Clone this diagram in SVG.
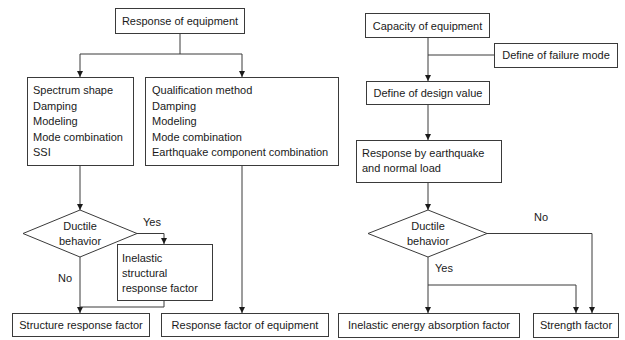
<svg xmlns="http://www.w3.org/2000/svg" width="625" height="340" viewBox="0 0 625 340">
<style>
.bx{fill:#fff;stroke:#3a3a3a;stroke-width:1}
.ln{fill:none;stroke:#3a3a3a;stroke-width:1}
text{font-family:"Liberation Sans",Arial,sans-serif;font-size:11px;fill:#1a1a1a}
.c{text-anchor:middle}
</style>
<defs>
<marker id="ah" markerUnits="userSpaceOnUse" markerWidth="7" markerHeight="7" refX="6" refY="3" orient="auto">
<path d="M0,0 L6,3 L0,6 z" fill="#1a1a1a"/>
</marker>
</defs>
<rect width="625" height="340" fill="#fff"/>
<g id="connectors">
<path class="ln" d="M180,33 V54 H80 V77" marker-end="url(#ah)"/>
<path class="ln" d="M180,54 H242 V77" marker-end="url(#ah)"/>
<path class="ln" d="M80,165 V210" marker-end="url(#ah)"/>
<path class="ln" d="M137,233.5 H164 V244" marker-end="url(#ah)"/>
<path class="ln" d="M80,257 V313" marker-end="url(#ah)"/>
<path class="ln" d="M164,300 V307 H80"/>
<path class="ln" d="M242,165 V313" marker-end="url(#ah)"/>
<path class="ln" d="M428,38 V81" marker-end="url(#ah)"/>
<path class="ln" d="M428,55 H494"/>
<path class="ln" d="M428,104 V140" marker-end="url(#ah)"/>
<path class="ln" d="M428,182 V210" marker-end="url(#ah)"/>
<path class="ln" d="M487,233.5 H592 V313" marker-end="url(#ah)"/>
<path class="ln" d="M428,257 V313" marker-end="url(#ah)"/>
<path class="ln" d="M428,285 H576 V313" marker-end="url(#ah)"/>
<text x="143" y="226">Yes</text>
<text x="58" y="282">No</text>
<text x="534" y="221">No</text>
<text x="435" y="272">Yes</text>
</g>
<g id="response-of-equipment">
<rect class="bx" x="115.5" y="8.5" width="129" height="25"/>
<text class="c" x="180" y="25">Response of equipment</text>
</g>
<g id="spectrum-box">
<rect class="bx" x="27.5" y="77.5" width="106" height="88"/>
<text x="33" y="94">Spectrum shape</text>
<text x="33" y="109.5">Damping</text>
<text x="33" y="125">Modeling</text>
<text x="33" y="140.5">Mode combination</text>
<text x="33" y="156">SSI</text>
</g>
<g id="qualification-box">
<rect class="bx" x="145.5" y="77.5" width="193" height="88"/>
<text x="152" y="94">Qualification method</text>
<text x="152" y="109.5">Damping</text>
<text x="152" y="125">Modeling</text>
<text x="152" y="140.5">Mode combination</text>
<text x="152" y="156">Earthquake component combination</text>
</g>
<g id="ductile-left">
<polygon class="bx" points="23,233.5 80,210 137,233.5 80,257"/>
<text class="c" x="80" y="230">Ductile</text>
<text class="c" x="80" y="245">behavior</text>
</g>
<g id="inelastic-structural">
<rect class="bx" x="117.5" y="244.5" width="95" height="56"/>
<text x="122" y="262">Inelastic</text>
<text x="122" y="277">structural</text>
<text x="122" y="292">response factor</text>
</g>
<g id="structure-response-factor">
<rect class="bx" x="12.5" y="313.5" width="137" height="23"/>
<text class="c" x="81" y="329">Structure response factor</text>
</g>
<g id="response-factor-equipment">
<rect class="bx" x="161.5" y="313.5" width="167" height="23"/>
<text class="c" x="245" y="329">Response factor of equipment</text>
</g>
<g id="capacity-of-equipment">
<rect class="bx" x="365.5" y="13.5" width="124" height="24"/>
<text class="c" x="427.5" y="29.5">Capacity of equipment</text>
</g>
<g id="define-failure-mode">
<rect class="bx" x="494.5" y="43.5" width="123" height="24"/>
<text class="c" x="556" y="59">Define of failure mode</text>
</g>
<g id="define-design-value">
<rect class="bx" x="366.5" y="81.5" width="123" height="23"/>
<text class="c" x="428" y="96.5">Define of design value</text>
</g>
<g id="response-by-earthquake">
<rect class="bx" x="356.5" y="140.5" width="145" height="42"/>
<text x="362" y="157">Response by earthquake</text>
<text x="362" y="172">and normal load</text>
</g>
<g id="ductile-right">
<polygon class="bx" points="368,233.5 428,210 487,233.5 428,257"/>
<text class="c" x="428" y="230">Ductile</text>
<text class="c" x="428" y="245">behavior</text>
</g>
<g id="inelastic-energy">
<rect class="bx" x="338.5" y="313.5" width="181" height="24"/>
<text class="c" x="429" y="329">Inelastic energy absorption factor</text>
</g>
<g id="strength-factor">
<rect class="bx" x="533.5" y="313.5" width="85" height="24"/>
<text class="c" x="576" y="329">Strength factor</text>
</g>
</svg>
